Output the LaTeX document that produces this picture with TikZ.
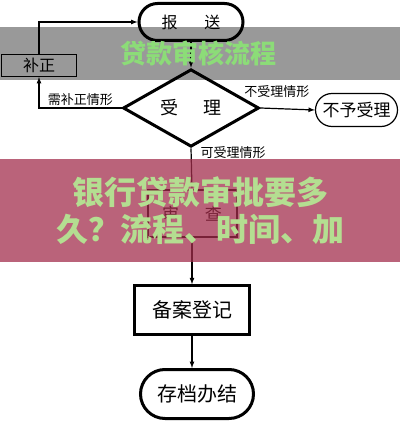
\documentclass[tikz,border=0pt]{standalone}
\usepackage{fontspec}
\newfontfamily\cjk{Noto Sans CJK SC}
\usepackage{tikz}
\usetikzlibrary{shapes.misc, shapes.geometric, positioning}
\definecolor{bannergreen}{RGB}{140,220,120}
\definecolor{bannerlime}{RGB}{180,222,145}
\definecolor{bannerrose}{RGB}{162,45,75}

\begin{document}
\begin{tikzpicture}[x=1pt, y=-1pt, >=latex]
    \tikzstyle{stadium}=[rounded rectangle, draw, line width=3pt, inner sep=0pt]
    \tikzstyle{box}=[rectangle, draw, inner sep=0pt]
    \tikzstyle{label}=[font=\cjk\fontsize{13}{13}\selectfont, inner sep=1pt]
    \useasboundingbox (0,0) rectangle (400,422);

    % Flow nodes
    \node[stadium, minimum width=104pt, minimum height=37pt, font=\cjk\fontsize{16}{16}\selectfont]
        (send) at (191,22) {报\hspace{27pt}送};
    \node[box, line width=1pt, minimum width=75pt, minimum height=22pt, font=\cjk\fontsize{16}{16}\selectfont]
        (fix) at (39,65.5) {补正};
    \node[diamond, draw, line width=3pt, inner sep=0pt, minimum width=136pt, minimum height=58pt,
        font=\cjk\fontsize{18}{18}\selectfont]
        (accept) at (191,108) {受\hspace{25pt}理};
    \node[rounded rectangle, draw, line width=1.2pt, inner sep=0pt, minimum width=82pt, minimum height=33pt,
        font=\cjk\fontsize{17}{17}\selectfont]
        (reject) at (356.5,110) {不予受理};
    \node[box, line width=2pt, minimum width=89pt, minimum height=47pt, font=\cjk\fontsize{17}{17}\selectfont]
        (review) at (192,213.5) {审\hspace{26pt}查};
    \node[box, line width=2.5pt, minimum width=115pt, minimum height=49pt, font=\cjk\fontsize{20}{20}\selectfont]
        (record) at (192,310) {备案登记};
    \node[stadium, minimum width=113pt, minimum height=49pt, font=\cjk\fontsize{20}{20}\selectfont]
        (archive) at (197,394) {存档办结};

    % Connectors
    \draw[->, line width=1.2pt] (fix.north) |- (send.west);
    \draw[->, line width=1.2pt] (send.south) -- (accept.north);
    \draw[->, line width=1.2pt] (accept.west) -| (fix.south)
        node[label, pos=0.25, above=1pt] {需补正情形};
    \draw[->, line width=1.2pt] (accept.east) -- (reject.west)
        node[label, pos=0.3, above=9pt] {不受理情形};
    \draw[->, line width=1.2pt] (accept.south) -- (review.north)
        node[label, pos=0.1, right=8pt] {可受理情形};
    \draw[->, line width=1.2pt] (review.south) -- (record.north);
    \draw[->, line width=1.2pt] (record.south) -- (record.south |- archive.north);

    % Overlay banners
    \fill[black, opacity=0.4] (0,27) rectangle (400,80);
    \node[font=\cjk\bfseries\fontsize{26}{26}\selectfont, text=bannergreen] (title) at (198,53) {贷款审核流程};
    \fill[bannerrose, opacity=0.74] (0,159) rectangle (400,262);
    \node[font=\cjk\bfseries\fontsize{32}{37}\selectfont, text=bannerlime, align=center]
        (headline) at (200,211) {银行贷款审批要多\\久？流程、时间、加};
\end{tikzpicture}
\end{document}
